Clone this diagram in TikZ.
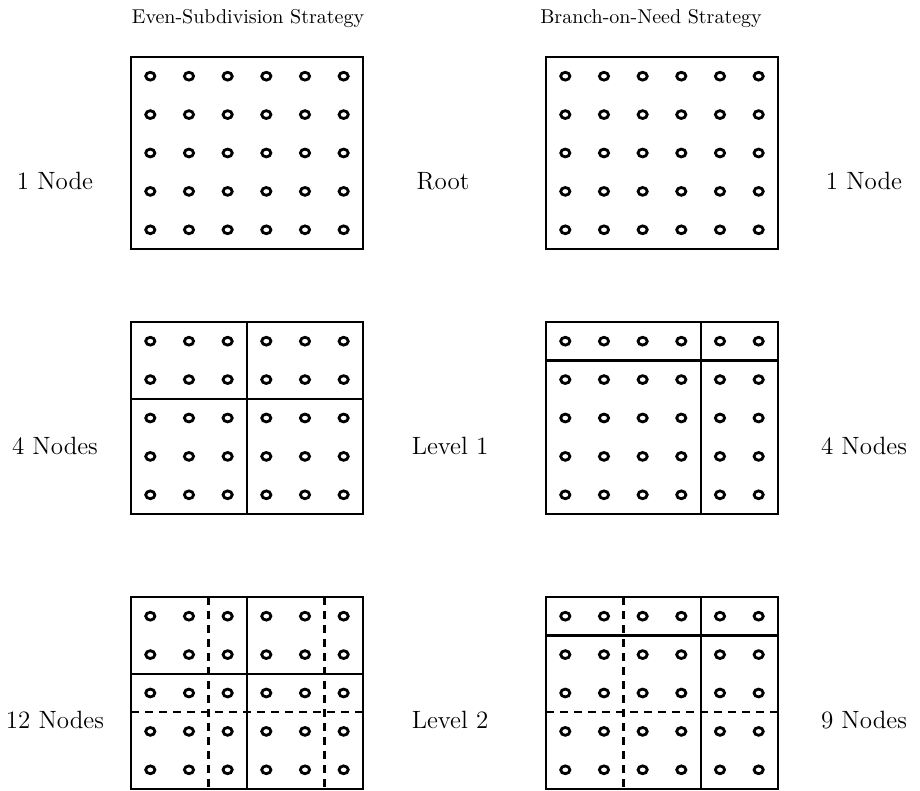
\documentclass[tikz,border=0pt]{standalone}
\usepackage{amsmath}
\usepackage{tikz}
\begin{document}
\begin{tikzpicture}[x=0.5pt,y=-0.5pt,
  box/.style={line width=1.4pt},
  cut/.style={line width=1.2pt},
  sub/.style={line width=1.2pt,dash pattern=on 4pt off 3pt},
  dot/.style={line width=1.4pt},
  side/.style={font=\fontsize{12.5}{15}\selectfont}]
  \useasboundingbox (0,0) rectangle (920,791);
  % frames with 6x5 sample points
  \foreach \bx/\by in {131/57, 546/57, 131/322, 546/322, 131/597, 546/597} {
    \draw[box] (\bx,\by) rectangle ++(232,192);
    \foreach \i in {0,...,5}
      \foreach \j in {0,...,4}
        \draw[dot] ({\bx+19.3+38.67*\i},{\by+19.2+38.4*\j}) ellipse[x radius=4.6, y radius=3.9];
  }
  % even subdivision, level 1 and 2
  \draw[cut] (247,322) -- (247,514);
  \draw[cut] (131,399) -- (363,399);
  \draw[cut] (247,597) -- (247,789);
  \draw[cut] (131,674) -- (363,674);
  \draw[sub] (208.3,597) -- (208.3,789);
  \draw[sub] (324.3,597) -- (324.3,789);
  \draw[sub] (131,712.2) -- (363,712.2);
  % branch on need, level 1 and 2
  \draw[cut] (546,360.4) -- (778,360.4);
  \draw[cut] (700.7,322) -- (700.7,514);
  \draw[cut] (546,635.4) -- (778,635.4);
  \draw[cut] (700.7,597) -- (700.7,789);
  \draw[sub] (623.3,597) -- (623.3,789);
  \draw[sub] (546,712.2) -- (778,712.2);
  % labels
  \node (evenhead) at (248,19) {Even-Subdivision Strategy};
  \node (bonhead) at (651,19) {Branch-on-Need Strategy};
  \node[side] (rootleft) at (55,181) {1 Node};
  \node[side] (rootmid) at (443,181) {Root};
  \node[side] (rootright) at (864,181) {1 Node};
  \node[side] (oneleft) at (55,446) {4 Nodes};
  \node[side] (onemid) at (450,446) {Level 1};
  \node[side] (oneright) at (864,446) {4 Nodes};
  \node[side] (twoleft) at (55,720) {12 Nodes};
  \node[side] (twomid) at (450,720) {Level 2};
  \node[side] (tworight) at (864,720) {9 Nodes};
\end{tikzpicture}
\end{document}
